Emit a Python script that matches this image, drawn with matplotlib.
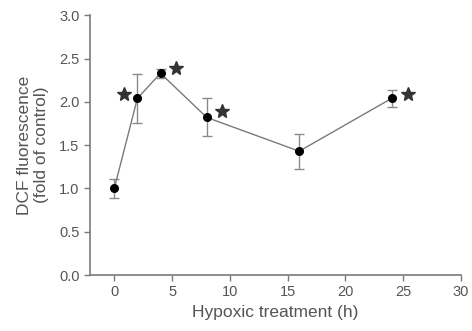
import matplotlib
matplotlib.use("Agg")
import matplotlib.pyplot as plt

plt.rcParams["font.family"] = ["Liberation Sans", "DejaVu Sans"]

hours = [0, 2, 4, 8, 16, 24]
dcf = [1.00, 2.04, 2.33, 1.82, 1.43, 2.04]
sem = [0.11, 0.28, 0.05, 0.22, 0.20, 0.095]

# significance stars (x, y) next to points
star_x = [0.85, 5.35, 9.3, 25.4]
star_y = [2.09, 2.39, 1.89, 2.09]

GREY = "#555555"
LINE = "#7a7a7a"

fig = plt.figure(figsize=(4.72, 3.31), dpi=100)
ax = fig.add_axes([0.1907, 0.169, 0.786, 0.785])

ax.errorbar(hours, dcf, yerr=sem, color=LINE, lw=1.0, ecolor="#8a8a8a",
            elinewidth=1.0, capsize=3.5, capthick=1.0,
            marker="o", ms=5.5, mfc="black", mec="black", zorder=3)

ax.plot(star_x, star_y, ls="none", marker="*", ms=10, color="#333333")

ax.set_xlim(-2.1, 30)
ax.set_ylim(0, 3.0)
ax.set_xticks([0, 5, 10, 15, 20, 25, 30])
ax.set_yticks([0.0, 0.5, 1.0, 1.5, 2.0, 2.5, 3.0])
ax.set_yticklabels(["0.0", "0.5", "1.0", "1.5", "2.0", "2.5", "3.0"])

for s in ["top", "right"]:
    ax.spines[s].set_visible(False)
for s in ["left", "bottom"]:
    ax.spines[s].set_color(LINE)
    ax.spines[s].set_linewidth(1.2)

ax.tick_params(direction="out", length=4, width=1, color=LINE,
               labelcolor=GREY, labelsize=10.5)

ax.set_xlabel("Hypoxic treatment (h)", fontsize=12.5, color=GREY, labelpad=4)
ax.set_ylabel("DCF fluorescence\n(fold of control)", fontsize=12.5, color=GREY,
              labelpad=7, linespacing=1.2)

fig.savefig("out.png", dpi=100)
